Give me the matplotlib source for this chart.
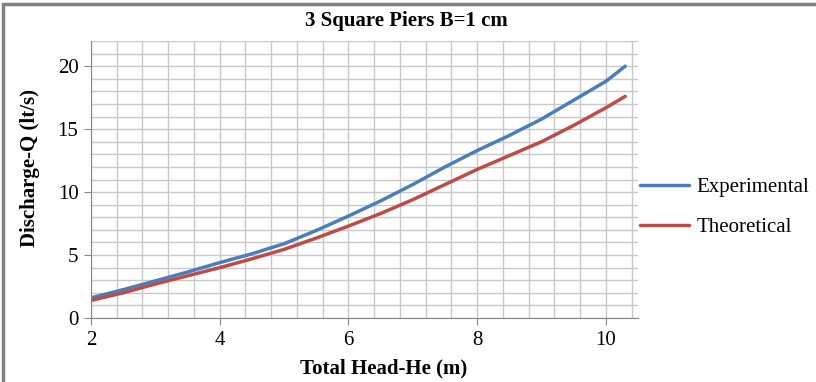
import matplotlib
matplotlib.use("Agg")
import matplotlib.pyplot as plt
from matplotlib.ticker import MultipleLocator
from matplotlib.patches import Rectangle

plt.rcParams['font.family'] = ['Liberation Serif', 'DejaVu Serif']

head = [2.0, 2.5, 3.0, 3.5, 4.0, 4.5, 5.0, 5.5, 6.0, 6.5, 7.0, 7.5, 8.0, 8.5, 9.0, 9.5, 10.0, 10.3]
experimental = [1.6, 2.25, 2.95, 3.65, 4.4, 5.1, 5.9, 6.95, 8.1, 9.3, 10.6, 12.0, 13.3, 14.5, 15.8, 17.3, 18.8, 20.0]
theoretical = [1.4, 2.0, 2.7, 3.35, 4.0, 4.7, 5.45, 6.35, 7.3, 8.3, 9.4, 10.6, 11.8, 12.9, 14.0, 15.3, 16.7, 17.6]

title = "3 Square Piers B=1 cm"
xlabel = "Total Head-He (m)"
ylabel = "Discharge-Q (lt/s)"

fig = plt.figure(figsize=(8.16, 3.82), dpi=100)
ax = fig.add_axes([0.1115, 0.1675, 0.782 - 0.1115, 0.8927 - 0.1675])

ax.plot(head, experimental, color='#4a7ebb', lw=2.5, label='Experimental', solid_capstyle='round')
ax.plot(head, theoretical, color='#be4b48', lw=2.5, label='Theoretical', solid_capstyle='round')

ax.set_xlim(2, 10.5)
ax.set_ylim(0, 22)
ax.xaxis.set_major_locator(MultipleLocator(2))
ax.xaxis.set_minor_locator(MultipleLocator(0.4))
ax.yaxis.set_major_locator(MultipleLocator(5))
ax.yaxis.set_minor_locator(MultipleLocator(1))
ax.grid(True, which='both', color='#c8c8c8', lw=1.0)
ax.set_axisbelow(True)
ax.tick_params(which='minor', length=0)
ax.tick_params(which='major', length=5, direction='out', color='#868686', labelsize=15, pad=4)
for s in ['top', 'right']:
    ax.spines[s].set_visible(False)
for s in ['left', 'bottom']:
    ax.spines[s].set_color('#868686')

fig.text(0.4975, 0.945, title, fontsize=15, fontweight='bold', ha='center', va='center')
ax.set_xlabel(xlabel, fontsize=15, fontweight='bold')
ax.xaxis.set_label_coords(0.534, -0.145)
ax.set_ylabel(ylabel, fontsize=15, fontweight='bold')
ax.yaxis.set_label_coords(-0.093, 0.543)

ax.legend(loc='center left', bbox_to_anchor=(1.0, 0.40), frameon=False, fontsize=15,
          handlelength=2.35, handletextpad=0.35, labelspacing=0.97,
          borderaxespad=0.0, borderpad=0.1)

fig.patches.append(Rectangle((0.004, -0.1), 1.2, 1.09, transform=fig.transFigure,
                             fill=False, edgecolor='#808080', lw=2.5))

fig.savefig('out.png', dpi=100)
